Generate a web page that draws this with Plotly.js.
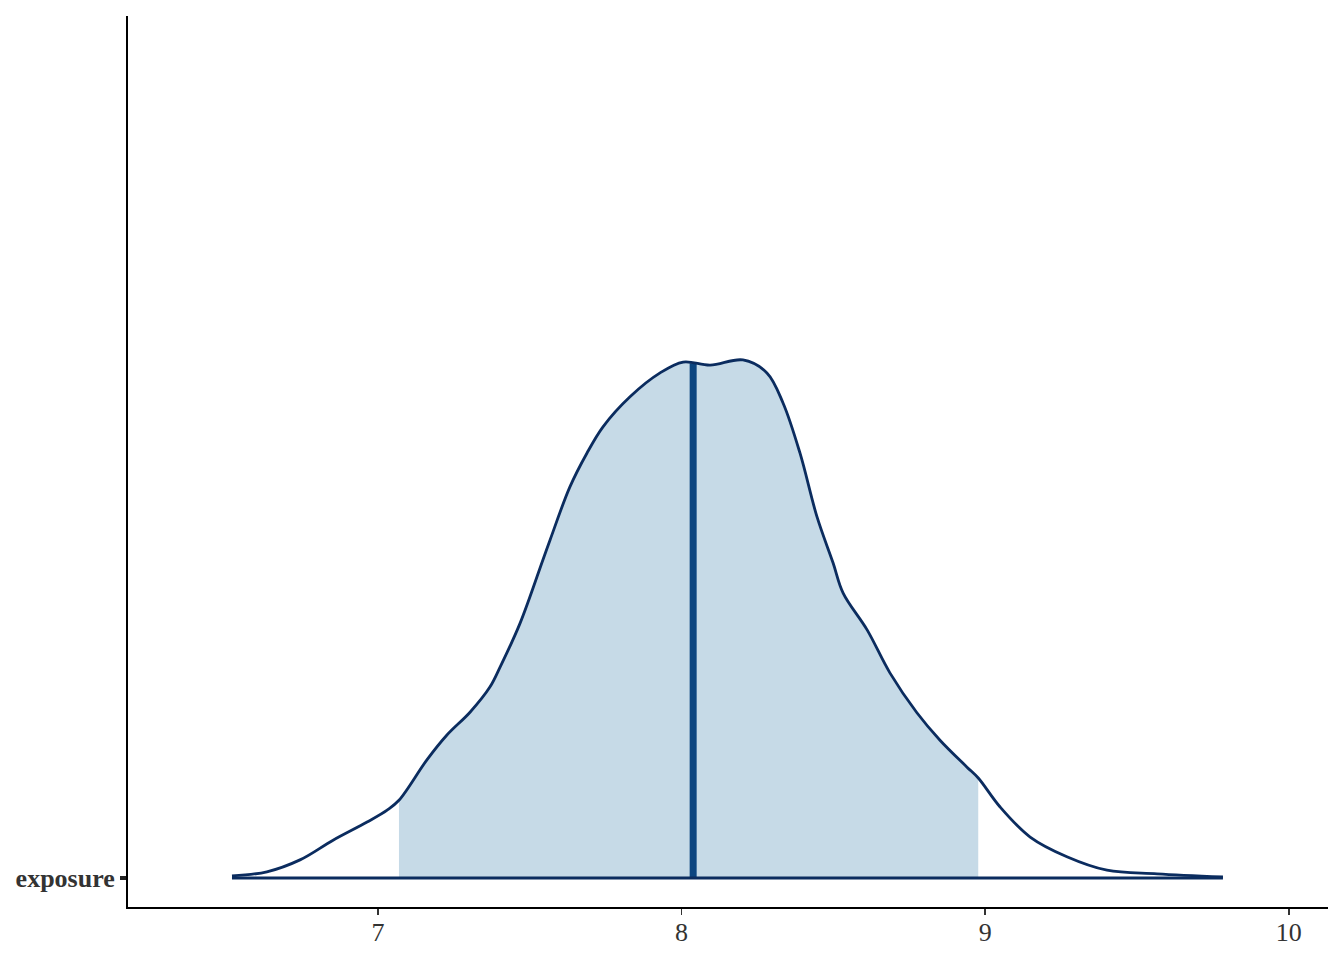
<!DOCTYPE html>
<html>
<head>
<meta charset="utf-8">
<script src="https://cdn.plot.ly/plotly-3.0.1.min.js"></script>
<style>html,body{margin:0;padding:0;background:#fff;}#chart{width:1344px;height:960px;}</style>
</head>
<body>
<div id="chart"></div>
<script>
// Parameter name
const paramLabels = ["exposure"];
// Density estimate of the posterior (x value, scaled density height)
const densX = [6.519, 6.634, 6.743, 6.852, 6.964, 7.030, 7.069, 7.161, 7.227, 7.303, 7.369, 7.402, 7.468, 7.543, 7.567, 7.632, 7.688, 7.741, 7.830, 7.929, 8.005, 8.094, 8.202, 8.281, 8.334, 8.390, 8.446, 8.499, 8.532, 8.611, 8.686, 8.775, 8.851, 8.940, 8.977, 9.049, 9.148, 9.269, 9.401, 9.566, 9.783];
const densY = [0.004, 0.012, 0.035, 0.073, 0.108, 0.131, 0.150, 0.228, 0.276, 0.320, 0.369, 0.407, 0.492, 0.614, 0.653, 0.755, 0.820, 0.871, 0.929, 0.975, 0.996, 0.990, 1.000, 0.975, 0.917, 0.820, 0.697, 0.608, 0.550, 0.479, 0.396, 0.319, 0.266, 0.214, 0.193, 0.137, 0.079, 0.041, 0.015, 0.008, 0.002];
// Interval and point estimate
const ciLow = [7.069];
const ciHigh = [8.977];
const medianVal = [8.038];
// X tick values
const xTicks = [7, 8, 9, 10];

function interp(x) {
  for (let i = 0; i < densX.length - 1; i++) {
    if (x >= densX[i] && x <= densX[i + 1]) {
      const t = (x - densX[i]) / (densX[i + 1] - densX[i]);
      return densY[i] + t * (densY[i + 1] - densY[i]);
    }
  }
  return 0;
}

const fx = [ciLow[0]], fy = [interp(ciLow[0])];
for (let i = 0; i < densX.length; i++) {
  if (densX[i] > ciLow[0] && densX[i] < ciHigh[0]) { fx.push(densX[i]); fy.push(densY[i]); }
}
fx.push(ciHigh[0]); fy.push(interp(ciHigh[0]));

const curveColor = "#0b2c5f";
const traces = [
  {x: fx, y: fy, type: "scatter", mode: "lines", fill: "tozeroy", fillcolor: "#c6dae7",
   line: {width: 0, color: "rgba(0,0,0,0)", shape: "spline", smoothing: 1}, hoverinfo: "skip", showlegend: false},
  {x: [medianVal[0], medianVal[0]], y: [0, interp(medianVal[0])], type: "scatter", mode: "lines",
   line: {width: 7, color: "#0c4580"}, showlegend: false},
  {x: densX, y: densY, type: "scatter", mode: "lines",
   line: {width: 2.8, color: curveColor, shape: "spline", smoothing: 1}, showlegend: false},
  {x: [densX[0], densX[densX.length - 1]], y: [0, 0], type: "scatter", mode: "lines",
   line: {width: 2.8, color: curveColor}, showlegend: false}
];

const layout = {
  width: 1344, height: 960,
  margin: {l: 128, r: 16, t: 16, b: 53},
  paper_bgcolor: "#ffffff", plot_bgcolor: "#ffffff",
  font: {family: "Liberation Serif, serif", color: "#333333"},
  showlegend: false,
  xaxis: {
    range: [6.1765, 10.129], tickvals: xTicks, ticktext: xTicks.map(String),
    showgrid: false, zeroline: false, showline: true, linecolor: "#000000", linewidth: 2,
    ticks: "outside", ticklen: 6, tickwidth: 1.5, tickcolor: "#333333", ticklabelstandoff: -5,
    tickfont: {size: 26, color: "#333333", family: "Liberation Serif, serif"}
  },
  yaxis: {
    range: [-0.056, 1.664], tickvals: [0], ticktext: paramLabels.map(s => "<b>" + s + "</b>"),
    showgrid: false, zeroline: false, showline: true, linecolor: "#000000", linewidth: 2,
    ticks: "outside", ticklen: 6, tickwidth: 4, tickcolor: "#222222",
    tickfont: {size: 26, color: "#333333", family: "Liberation Serif, serif"}
  }
};

Plotly.newPlot("chart", traces, layout, {displayModeBar: false, staticPlot: true});
</script>
</body>
</html>
